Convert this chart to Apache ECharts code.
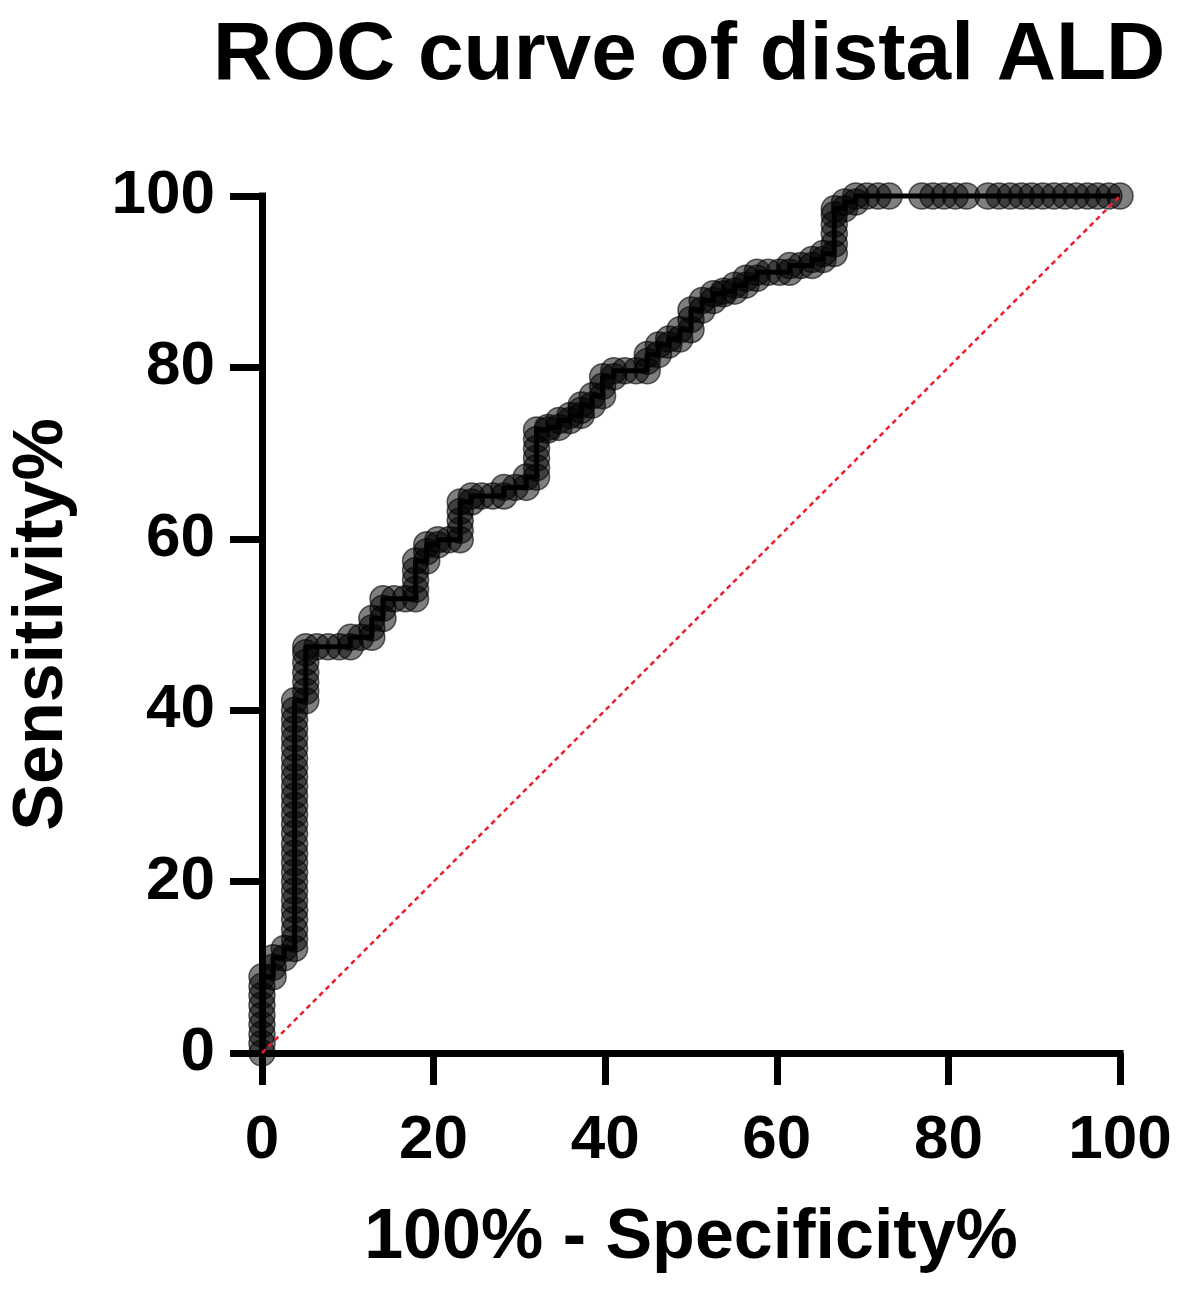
<!DOCTYPE html>
<html>
<head>
    <meta charset="utf-8">
    <title>ROC curve of distal ALD</title>
    <script src="https://cdn.jsdelivr.net/npm/echarts@6/dist/echarts.min.js"></script>
    <style>
        html, body { margin: 0; padding: 0; background: #fff; }
        #chart { width: 1177px; height: 1291px; }
    </style>
</head>
<body>
    <div id="chart"></div>
    <script>
        // ROC points: [100% - Specificity%, Sensitivity%]
        var rocPoints = [
            [0, 0], [0, 1.1], [0, 2.2], [0, 3.3], [0, 4.4], [0, 5.6], [0, 6.7], [0, 7.8], [0, 8.9],
            [1.3, 8.9], [1.3, 10.0], [1.3, 11.1],
            [2.6, 11.1], [2.6, 12.2],
            [3.8, 12.2], [3.8, 13.3], [3.8, 14.4], [3.8, 15.6], [3.8, 16.7], [3.8, 17.8], [3.8, 18.9],
            [3.8, 20.0], [3.8, 21.1], [3.8, 22.2], [3.8, 23.3], [3.8, 24.4], [3.8, 25.6], [3.8, 26.7],
            [3.8, 27.8], [3.8, 28.9], [3.8, 30.0], [3.8, 31.1], [3.8, 32.2], [3.8, 33.3], [3.8, 34.4],
            [3.8, 35.6], [3.8, 36.7], [3.8, 37.8], [3.8, 38.9], [3.8, 40.0], [3.8, 41.1],
            [5.1, 41.1], [5.1, 42.2], [5.1, 43.3], [5.1, 44.4], [5.1, 45.6], [5.1, 46.7], [5.1, 47.4],
            [6.4, 47.4], [7.7, 47.4], [9.0, 47.4],
            [10.3, 47.4], [10.3, 48.5],
            [11.5, 48.5],
            [12.8, 48.5], [12.8, 49.6], [12.8, 50.7],
            [14.1, 50.7], [14.1, 51.9], [14.1, 53.0],
            [15.4, 53.0], [16.7, 53.0],
            [17.9, 53.0], [17.9, 54.1], [17.9, 55.2], [17.9, 56.3], [17.9, 57.4],
            [19.2, 57.4], [19.2, 58.5], [19.2, 59.3],
            [20.5, 59.3], [20.5, 59.9], [21.8, 59.9],
            [23.1, 59.9], [23.1, 61.0], [23.1, 62.1], [23.1, 63.2], [23.1, 64.3],
            [24.4, 64.3], [24.4, 65.0],
            [25.6, 65.0], [26.9, 65.0],
            [28.2, 65.0], [28.2, 66.0],
            [29.5, 66.0],
            [30.8, 66.0], [30.8, 67.2],
            [32.0, 67.2], [32.0, 68.3], [32.0, 69.4], [32.0, 70.5], [32.0, 71.6], [32.0, 72.7],
            [33.3, 72.7], [33.3, 73.0],
            [34.6, 73.0], [34.6, 73.8],
            [35.9, 73.8], [35.9, 74.4],
            [37.2, 74.4], [37.2, 75.0], [37.2, 75.6],
            [38.5, 75.6], [38.5, 76.7],
            [39.7, 76.7], [39.7, 77.8], [39.7, 78.9],
            [41.0, 78.9], [41.0, 79.6],
            [42.3, 79.6], [43.6, 79.6],
            [44.9, 79.6], [44.9, 80.7], [44.9, 81.5],
            [46.2, 81.5], [46.2, 82.6],
            [47.4, 82.6], [47.4, 83.3],
            [48.7, 83.3], [48.7, 84.4],
            [50.0, 84.4], [50.0, 85.6], [50.0, 86.7],
            [51.3, 86.7], [51.3, 87.8],
            [52.6, 87.8], [52.6, 88.6],
            [53.8, 88.6], [53.8, 88.9],
            [55.1, 88.9], [55.1, 89.6],
            [56.4, 89.6], [56.4, 90.4],
            [57.7, 90.4], [57.7, 91.1],
            [59.0, 91.1], [60.3, 91.1],
            [61.5, 91.1], [61.5, 91.9],
            [62.8, 91.9],
            [64.1, 91.9], [64.1, 92.6],
            [65.4, 92.6], [65.4, 93.3],
            [66.7, 93.3], [66.7, 94.4], [66.7, 95.6], [66.7, 96.7], [66.7, 97.8], [66.7, 98.5],
            [67.9, 98.5], [67.9, 99.3],
            [69.2, 99.3], [69.2, 100],
            [70.5, 100], [71.8, 100], [73.1, 100],
            [76.9, 100], [78.2, 100], [79.5, 100], [80.8, 100], [82.1, 100],
            [84.6, 100], [85.9, 100], [87.2, 100], [88.5, 100], [89.7, 100], [91.0, 100],
            [92.3, 100], [93.6, 100], [94.9, 100], [96.2, 100], [97.4, 100], [98.7, 100], [100, 100]
        ];
        // reference line (chance)
        var chanceLine = [[0, 0], [100, 100]];
        var axisMin = 0;
        var axisMax = 100;
        var tickStep = 20;

        var fontFamily = '"Liberation Sans", Arial, sans-serif';
        var myChart = echarts.init(document.getElementById('chart'));

        var axisCommon = {
            type: 'value',
            min: axisMin,
            max: axisMax,
            interval: tickStep,
            nameLocation: 'middle',
            splitLine: { show: false },
            axisLine: { show: true, lineStyle: { color: '#000', width: 7, cap: 'square' } },
            axisTick: { show: true, length: 32, lineStyle: { color: '#000', width: 7 } },
            nameTextStyle: { color: '#000', fontSize: 70, fontWeight: 'bold', fontFamily: fontFamily },
            axisLabel: { color: '#000', fontSize: 62, fontWeight: 'bold', fontFamily: fontFamily }
        };

        var option = {
            animation: false,
            backgroundColor: '#fff',
            title: {
                text: 'ROC curve of distal ALD',
                left: 213,
                top: 15,
                padding: 0,
                textStyle: { color: '#000', fontSize: 82, fontWeight: 'bold', fontFamily: fontFamily }
            },
            grid: { left: 260, right: 57, top: 196, bottom: 238, containLabel: false },
            xAxis: echarts.util.merge({
                name: '100% - Specificity%',
                nameGap: 151,
                axisLabel: { margin: 57 }
            }, axisCommon),
            yAxis: echarts.util.merge({
                name: 'Sensitivity%',
                nameGap: 184,
                axisLabel: { margin: 47 }
            }, axisCommon),
            series: [
                {
                    name: 'ROC',
                    type: 'line',
                    data: rocPoints,
                    clip: false,
                    symbol: 'circle',
                    symbolSize: 26,
                    showAllSymbol: true,
                    lineStyle: { color: '#000', width: 5 },
                    itemStyle: {
                        color: 'rgba(0,0,0,0.5)',
                        borderColor: 'rgba(0,0,0,0.6)',
                        borderWidth: 1.5
                    },
                    emphasis: { disabled: true },
                    z: 2
                },
                {
                    name: 'chance',
                    type: 'line',
                    data: chanceLine,
                    clip: false,
                    symbol: 'none',
                    lineStyle: { color: '#ee1c2e', width: 2.5, type: [5, 4] },
                    emphasis: { disabled: true },
                    z: 3
                }
            ]
        };

        myChart.setOption(option);
    </script>
</body>
</html>
